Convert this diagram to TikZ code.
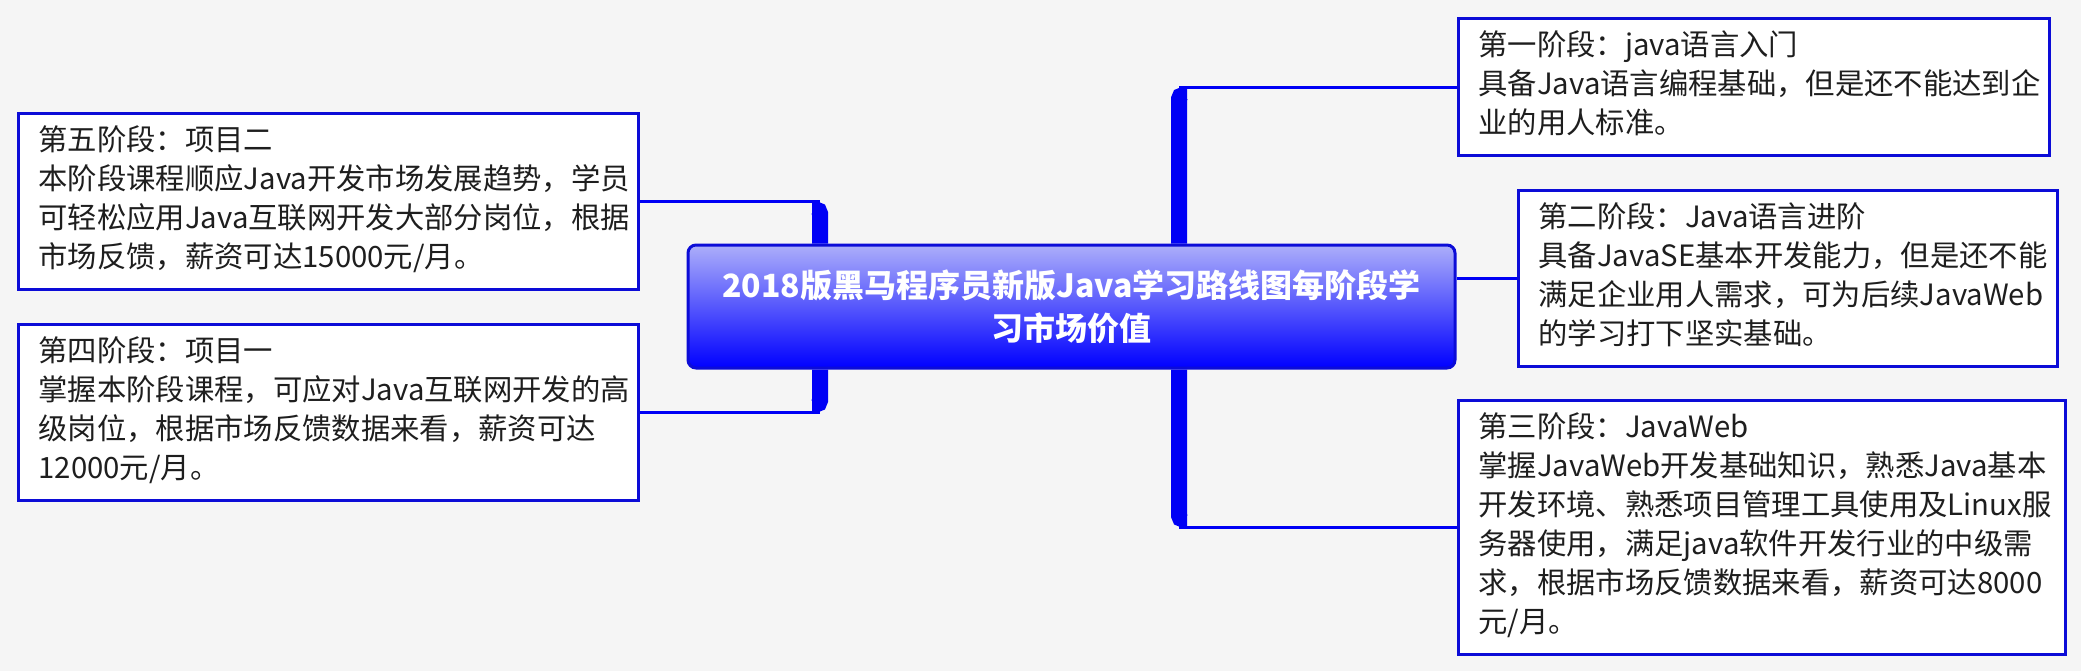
\documentclass[tikz,border=0pt]{standalone}
\usepackage{fontspec}
\setmainfont{Noto Sans CJK SC}
\usetikzlibrary{calc}

\definecolor{hintergrund}{RGB}{245,245,245}
\definecolor{rahmenblau}{RGB}{12,12,215}
\definecolor{astblau}{RGB}{0,0,245}
\definecolor{mitteoben}{RGB}{172,174,250}
\definecolor{mitteunten}{RGB}{0,0,255}
\definecolor{textgrau}{RGB}{30,30,30}

\tikzset{
    kasten/.style={
        draw=rahmenblau,     % blauer Rahmen
        fill=white,
        line width=2.25pt,
        anchor=north west,
        align=left,
        inner xsep=15pt,
        inner ysep=7.5pt,
        text=textgrau,
        font=\fontsize{22pt}{29.25pt}\selectfont,
        execute at begin node=\strut,
        execute at end node=\strut
    },
    zentrum/.style={
        draw=rahmenblau,
        line width=2.25pt,
        rounded corners=6pt,
        top color=mitteoben, % Verlauf von hell nach blau
        bottom color=mitteunten,
        minimum width=575.25pt,
        minimum height=92.25pt,
        inner sep=0pt,
        align=center,
        text=white,
        font=\fontsize{24pt}{32.25pt}\selectfont\bfseries
    },
    ast/.style={draw=astblau, line width=12pt, rounded corners=3pt},
    zweig/.style={draw=astblau, line width=2.25pt}
}

\begin{document}
\begin{tikzpicture}[x=0.75pt, y=-0.75pt]

    % Hintergrund und feste Bildgroesse (in px des Vorbilds)
    \useasboundingbox (0,0) rectangle (2081,671);
    \fill[hintergrund] (0,0) rectangle (2081,671);

    % Die fuenf Stufen
    \node[kasten, text width=413.25pt] (stufe1) at (1457,17)
        {第一阶段：java语言入门\\具备Java语言编程基础，但是还不能达到企\\业的用人标准。};
    \node[kasten, text width=374.25pt] (stufe2) at (1517,189)
        {第二阶段：Java语言进阶\\具备JavaSE基本开发能力，但是还不能\\满足企业用人需求，可为后续JavaWeb\\的学习打下坚实基础。};
    \node[kasten, text width=425.25pt] (stufe3) at (1457,399)
        {第三阶段：JavaWeb\\掌握JavaWeb开发基础知识，熟悉Java基本\\开发环境、熟悉项目管理工具使用及Linux服\\务器使用，满足java软件开发行业的中级需\\求，根据市场反馈数据来看，薪资可达8000\\元/月。};
    \node[kasten, text width=435pt] (stufe4) at (17,323)
        {第四阶段：项目一\\掌握本阶段课程，可应对Java互联网开发的高\\级岗位，根据市场反馈数据来看，薪资可达\\12000元/月。};
    \node[kasten, text width=435pt] (stufe5) at (17,112)
        {第五阶段：项目二\\本阶段课程顺应Java开发市场发展趋势，学员\\可轻松应用Java互联网开发大部分岗位，根据\\市场反馈，薪资可达15000元/月。};

    % Mitte
    \node[zentrum] (mitte) at (1071.5,306.5)
        {2018版黑马程序员新版Java学习路线图每阶段学\\习市场价值};

    % Lage der beiden senkrechten Aeste
    \coordinate (links) at (820,0);
    \coordinate (rechts) at (1179,0);

    % Aeste links
    \draw[zweig] (stufe5.east) -- (stufe5.east -| links);
    \draw[ast] (mitte.north -| links) |- ($(stufe5.east -| links)+(-8,8)$);
    \draw[zweig] (stufe4.east) -- (stufe4.east -| links);
    \draw[ast] (mitte.south -| links) |- ($(stufe4.east -| links)+(-8,-8)$);

    % Aeste rechts
    \draw[zweig] (stufe1.west) -- (stufe1.west -| rechts);
    \draw[ast] (mitte.north -| rechts) |- ($(stufe1.west -| rechts)+(8,8)$);
    \draw[zweig] (stufe3.west) -- (stufe3.west -| rechts);
    \draw[ast] (mitte.south -| rechts) |- ($(stufe3.west -| rechts)+(8,-8)$);
    \draw[zweig] (stufe2.west) -- (stufe2.west -| mitte.east);

\end{tikzpicture}
\end{document}
